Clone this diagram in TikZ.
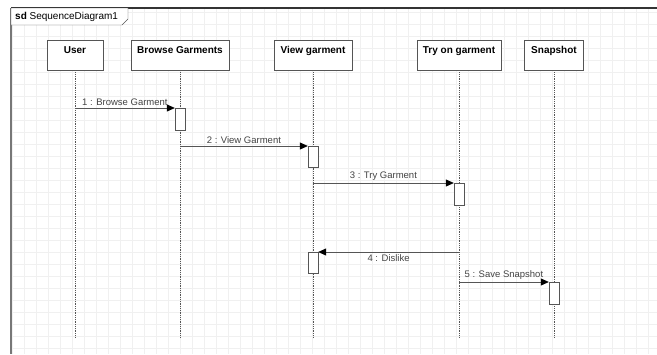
\documentclass[tikz,border=0pt]{standalone}
\usepackage{fontspec}
\setmainfont{Liberation Sans}
\usetikzlibrary{arrows.meta}
\definecolor{gridgray}{HTML}{F0F0F0}
\definecolor{linegray}{HTML}{555555}
\definecolor{textgray}{HTML}{444444}
\tikzset{
	lifebox/.style={draw=linegray,fill=white,thick,minimum height=30pt,text depth=10pt,
		inner xsep=2pt,font=\fontsize{10}{12}\selectfont\bfseries},
	lifeline/.style={linegray,densely dotted,thick},
	actbox/.style={draw=linegray,fill=white,minimum width=10pt,minimum height=22pt,inner sep=0pt},
	msg/.style={linegray,thick,-{Triangle[length=8pt,width=7pt,color=black]}},
	msglabel/.style={font=\fontsize{9.5}{11}\selectfont,text=textgray,inner sep=2pt}
}
\begin{document}
\begin{tikzpicture}[x=1pt,y=-1pt]

\def\LIFEEND{337}
	\useasboundingbox (0,0) rectangle (657,354);
	\fill[white] (0,0) rectangle (657,354);
	\draw[step=12pt,gridgray,thin] (11,8) grid (657,354);

	% frame and tab
	\draw[linegray!80,line width=1.5pt] (11,8) -- (11,354);
	\draw[black!80,line width=2pt] (11,8) -- (657,8);
	\draw[linegray,fill=white] (11,8) -- (128,8) -- (128,19) -- (122,25) -- (11,25) -- cycle;
	\node[anchor=west,inner sep=0pt,font=\fontsize{10}{12}\selectfont] (frame) at (15,17) {\textbf{sd} SequenceDiagram1};

	% lifelines
	\node[lifebox,minimum width=56pt] (user) at (75,55) {User};
	\node[lifebox,minimum width=98pt] (browse) at (180,55) {Browse Garments};
	\node[lifebox,minimum width=78pt] (view) at (313,55) {View garment};
	\node[lifebox,minimum width=84pt] (tryon) at (459,55) {Try on garment};
	\node[lifebox,minimum width=59pt] (snap) at (554,55) {Snapshot};

	\foreach \obj in {user,browse,view,tryon,snap}
		\draw[lifeline] (\obj.south) -- (\obj.south |- 0,\LIFEEND);

	% activations
	\node[actbox,anchor=north] (act1) at (180,108) {};
	\node[actbox,anchor=north,minimum height=21pt] (act2) at (313,146) {};
	\node[actbox,anchor=north] (act3) at (459,183) {};
	\node[actbox,anchor=north,minimum height=21pt] (act4) at (313,252) {};
	\node[actbox,anchor=north] (act5) at (554,282) {};

	% messages
	\draw[msg] (user |- act1.north) -- node[msglabel,above] {1 : Browse Garment} (act1.north west);
	\draw[msg] (browse |- act2.north) -- node[msglabel,above] {2 : View Garment} (act2.north west);
	\draw[msg] (view |- act3.north) -- node[msglabel,above] {3 : Try Garment} (act3.north west);
	\draw[msg] (tryon |- act4.north) -- node[msglabel,below] {4 : Dislike} (act4.north east);
	\draw[msg] (tryon |- act5.north) -- node[msglabel,above] {5 : Save Snapshot} (act5.north west);

\end{tikzpicture}
\end{document}
